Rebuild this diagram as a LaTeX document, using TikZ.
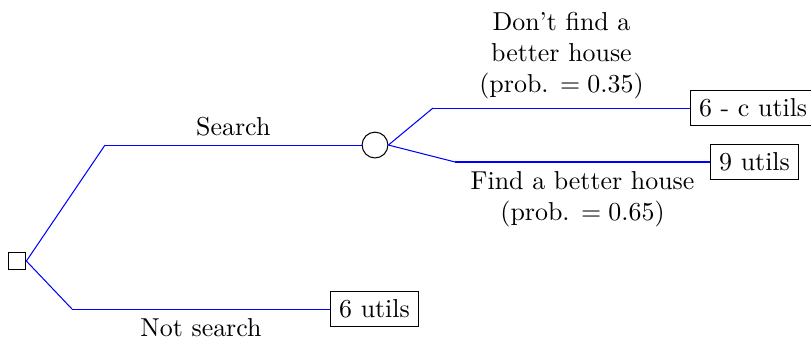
\documentclass[tikz,border=0pt]{standalone}
\usepackage{amsmath}
\tikzset{decision/.style = {draw, rectangle, inner sep = 0, minimum size = 0.24cm}}
\tikzset{chance/.style = {draw, circle, inner sep = 0, minimum size = 0.35cm}}
\tikzset{payoff/.style = {draw, rectangle, anchor = west}}
\tikzset{branch/.style = {blue}}

\begin{document}
\begin{tikzpicture}
    \useasboundingbox (0, 0) rectangle (11.004, 4.627);

    \node [decision] (d) at (0.231, 1.085) {};
    \node [chance] (c) at (5.088, 2.659) {};

    \node [payoff] (u1) at (9.362, 3.161) {6 - c utils};
    \node [payoff] (u2) at (9.634, 2.429) {9 utils};
    \node [payoff] (u3) at (4.478, 0.434) {6 utils};

    \coordinate (s) at (1.425, 2.659);
    \coordinate (n) at (0.977, 0.434);
    \coordinate (f1) at (5.875, 3.161);
    \coordinate (f2) at (6.174, 2.429);

    \draw [branch] (d.east) -- (s);
    \draw [branch] (s) -- (c) node [pos=0.5, above, black] {Search};
    \draw [branch] (d.east) -- (n);
    \draw [branch] (n) -- (u3) node [pos=0.5, below, black] {Not search};

    \draw [branch] (c.east) -- (f1);
    \draw [branch] (f1) -- (u1) node [pos=0.5, above, black, align=center] {Don't find a\\better house\\(prob. $= 0.35$)};
    \draw [branch] (c.east) -- (f2);
    \draw [branch] (f2) -- (u2) node [pos=0.5, below, black, align=center] {Find a better house\\(prob. $= 0.65$)};
\end{tikzpicture}
\end{document}
